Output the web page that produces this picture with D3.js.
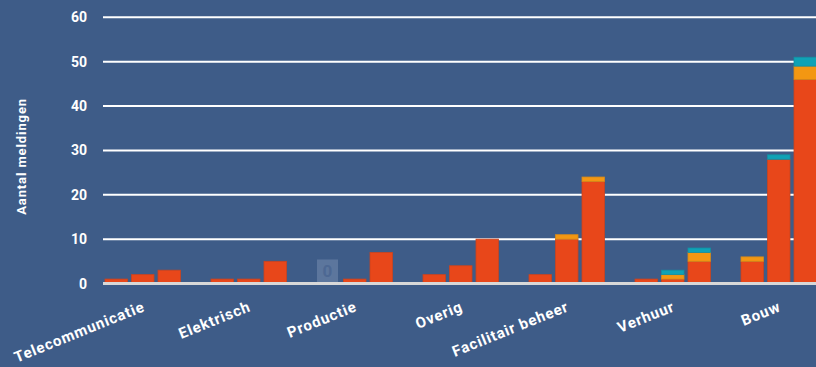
<!DOCTYPE html>
<html>
<head>
<meta charset="utf-8">
<script src="https://cdn.jsdelivr.net/npm/d3@7"></script>
<style>
  html, body { margin: 0; padding: 0; background: #3e5c88; }
  svg { display: block; }
  text { font-family: Roboto, "Open Sans", sans-serif; font-weight: 700; fill: #ffffff; }
</style>
</head>
<body>
<svg id="chart" width="816" height="367"></svg>
<script>
// Meldingen per afdeling, drie perioden per afdeling, gestapeld per type
const categories = ["Telecommunicatie", "Elektrisch", "Productie", "Overig", "Facilitair beheer", "Verhuur", "Bouw"];
const periods = ["p1", "p2", "p3"];
const seriesKeys = ["rood", "oranje", "blauw"];

// per categorie: waarden voor p1, p2, p3
const rood   = [[1, 2, 3], [1, 1, 5], [0, 1, 7], [2, 4, 10], [2, 10, 23], [1, 1, 5], [5, 28, 46]];
const oranje = [[0, 0, 0], [0, 0, 0], [0, 0, 0], [0, 0, 0], [0, 1, 1],   [0, 1, 2], [1, 0, 3]];
const blauw  = [[0, 0, 0], [0, 0, 0], [0, 0, 0], [0, 0, 0], [0, 0, 0],   [0, 1, 1], [0, 1, 2]];

const yTicks = [0, 10, 20, 30, 40, 50, 60];
const yTitle = "Aantal meldingen";

const colors = { rood: "#e8471a", oranje: "#f39712", blauw: "#0fa2b6" };
const edge   = { rood: "#c9441f", oranje: "#d48a1c", blauw: "#1390a3" };

// rows: one per (category, period)
const rows = [];
categories.forEach((c, ci) => {
  periods.forEach((p, pi) => {
    rows.push({ category: c, period: p, rood: rood[ci][pi], oranje: oranje[ci][pi], blauw: blauw[ci][pi] });
  });
});

const svg = d3.select("#chart");
const plotLeft = 103, plotRight = 816;

const x0 = d3.scaleBand().domain(categories).range([plotLeft, plotLeft + 7 * 106]).paddingInner(0).paddingOuter(0);
const x1 = d3.scaleBand().domain(periods).range([2, 77.5]).paddingInner(4 / 26.5).paddingOuter(0);
const y = d3.scaleLinear().domain([0, 60]).range([283.5, 17.3]);

// gridlines
svg.append("g")
  .selectAll("line")
  .data(yTicks.filter(d => d > 0))
  .join("line")
  .attr("x1", plotLeft).attr("x2", plotRight)
  .attr("y1", d => y(d)).attr("y2", d => y(d))
  .attr("stroke", "#ffffff").attr("stroke-width", 2);

// y tick labels
svg.append("g")
  .selectAll("text")
  .data(yTicks)
  .join("text")
  .attr("x", 87).attr("y", d => y(d))
  .attr("dy", "0.36em")
  .attr("text-anchor", "end")
  .style("font-size", "14px")
  .text(d => d);

// y title
svg.append("text")
  .attr("transform", `translate(25.5, ${(y(0) + y(60)) / 2 + 6}) rotate(-90)`)
  .attr("text-anchor", "middle")
  .style("font-size", "13px")
  .style("letter-spacing", "0.9px")
  .text(yTitle);

// stacked bars
const stack = d3.stack().keys(seriesKeys);
const stacked = stack(rows);
const bars = svg.append("g");
stacked.forEach(layer => {
  bars.append("g")
    .selectAll("rect")
    .data(layer.filter(d => d[1] - d[0] > 0))
    .join("rect")
    .attr("x", d => x0(d.data.category) + x1(d.data.period))
    .attr("width", x1.bandwidth())
    .attr("y", d => y(d[1]))
    .attr("height", d => y(d[0]) - y(d[1]))
    .attr("fill", colors[layer.key])
    .attr("stroke", edge[layer.key])
    .attr("stroke-width", 0.8);
});

// zero value label
rows.filter(r => r.rood + r.oranje + r.blauw === 0).forEach(r => {
  const bx = x0(r.category) + x1(r.period);
  const g = svg.append("g");
  g.append("rect")
    .attr("x", bx).attr("y", y(0) - 24)
    .attr("width", 21).attr("height", 24)
    .attr("fill", "#5c769d");
  g.append("text")
    .attr("x", bx + 10.5).attr("y", y(0) - 12.5)
    .attr("dy", "0.36em")
    .attr("text-anchor", "middle")
    .style("font-size", "17px")
    .style("fill", "#4d6893")
    .text(0);
});

// baseline
svg.append("line")
  .attr("x1", plotLeft).attr("x2", plotRight)
  .attr("y1", y(0)).attr("y2", y(0))
  .attr("stroke", "#d8d8d8").attr("stroke-width", 3);

// category labels
svg.append("g")
  .selectAll("text")
  .data(categories)
  .join("text")
  .attr("transform", d => `translate(${x0(d) + 39.75 + 3}, 310.5) rotate(-22)`)
  .attr("text-anchor", "end")
  .style("font-size", "15px")
  .style("letter-spacing", "0.9px")
  .text(d => d);
</script>
</body>
</html>
